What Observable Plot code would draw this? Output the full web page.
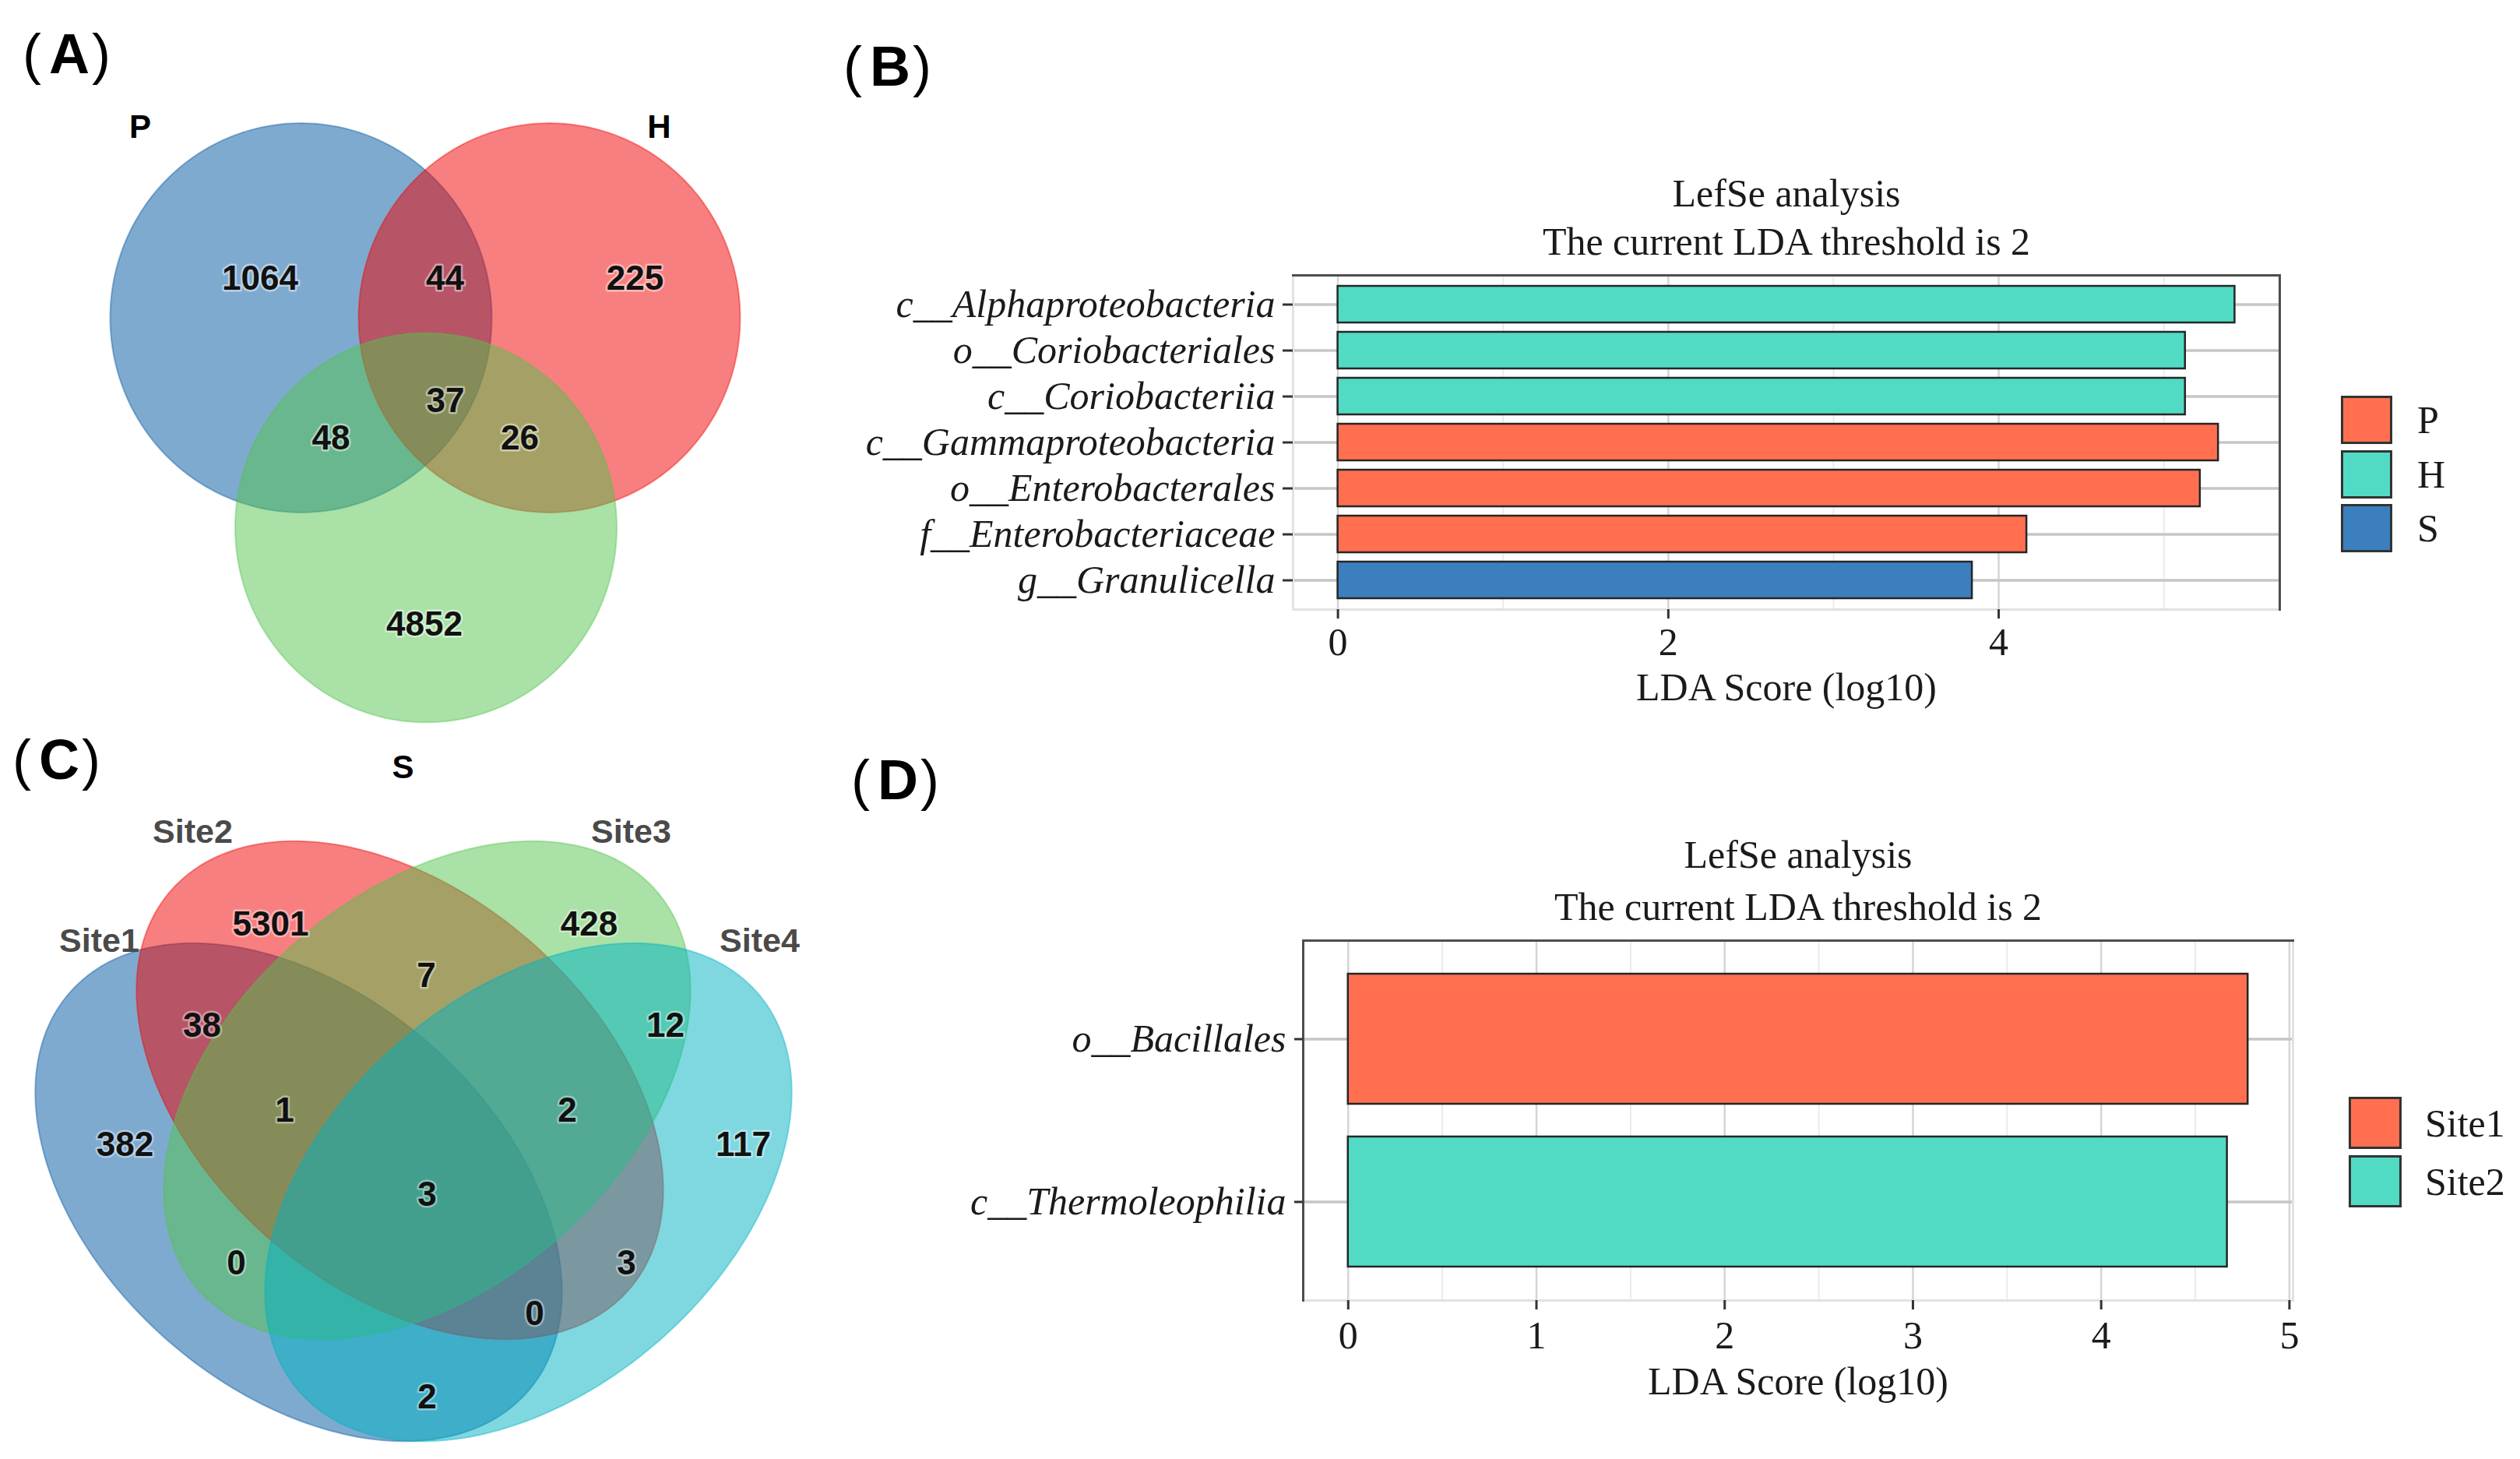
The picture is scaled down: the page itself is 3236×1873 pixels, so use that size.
<!DOCTYPE html>
<html><head><meta charset="utf-8">
<script src="https://cdn.jsdelivr.net/npm/d3@7"></script>
<script src="https://cdn.jsdelivr.net/npm/@observablehq/plot@0.6"></script>
<style>
html,body{margin:0;padding:0;background:#fff;}
#fig{position:relative;width:3236px;height:1873px;overflow:hidden;background:#fff;}
.slot{position:absolute;}
.slot svg{max-width:none !important;display:block;}
.tag{position:absolute;font-family:"Liberation Sans",Arial,sans-serif;font-size:72px;line-height:72px;color:#000;white-space:nowrap;}
.tag b{font-weight:700;margin-left:10px;margin-right:3px;}
.tag span{font-weight:400;}
.leg{position:absolute;left:0;top:0;font-family:"Liberation Serif","Times New Roman",serif;font-size:50px;color:#1a1a1a;}
.key{position:absolute;box-sizing:border-box;border:3px solid #333;}
.lab{position:absolute;line-height:1;white-space:nowrap;transform:translateY(-50%);}
[aria-label="y-axis tick label"]{font-style:italic;}
</style></head>
<body><div id="fig"></div>
<script>
// ---------------- data ----------------
// (A) Venn: P, H, S
const setsA = ["P", "H", "S"];
const regionsA = ["P", "P∩H", "H", "P∩H∩S", "P∩S", "H∩S", "S"];
const countsA = [1064, 44, 225, 37, 48, 26, 4852];

// (B) LEfSe P / H / S
const taxaB = ["c__Alphaproteobacteria", "o__Coriobacteriales", "c__Coriobacteriia",
  "c__Gammaproteobacteria", "o__Enterobacterales", "f__Enterobacteriaceae", "g__Granulicella"];
const ldaB = [5.43, 5.13, 5.13, 5.33, 5.22, 4.17, 3.84];
const classB = ["H", "H", "H", "P", "P", "P", "S"];
const groupsB = ["P", "H", "S"];
const ticksB = [0, 2, 4];
const minorB = [1, 3, 5];

// (C) Venn: Site1..Site4
const setsC = ["Site1", "Site2", "Site3", "Site4"];
const regionsC = ["Site2", "Site3", "Site2∩Site3", "Site1∩Site2", "Site3∩Site4",
  "Site1∩Site2∩Site3", "Site2∩Site3∩Site4", "Site1", "Site4", "all",
  "Site1∩Site3", "Site2∩Site4", "Site1∩Site2∩Site4", "Site1∩Site4"];
const countsC = [5301, 428, 7, 38, 12, 1, 2, 382, 117, 3, 0, 3, 0, 2];

// (D) LEfSe Site1 / Site2
const taxaD = ["o__Bacillales", "c__Thermoleophilia"];
const ldaD = [4.78, 4.67];
const classD = ["Site1", "Site2"];
const groupsD = ["Site1", "Site2"];
const ticksD = [0, 1, 2, 3, 4, 5];
const minorD = [0.5, 1.5, 2.5, 3.5, 4.5];

const titleLines = ["LefSe analysis", "The current LDA threshold is 2"];
const axisTitle = "LDA Score (log10)";

// ---------------- styling / layout ----------------
const serif = '"Liberation Serif","Times New Roman",Times,serif';
const sans = '"Liberation Sans",Arial,Helvetica,sans-serif';
const barColours = {P: "#FF6F50", H: "#52DBC4", S: "#3B7FBF", Site1: "#FF6F50", Site2: "#52DBC4"};
const vennColoursA = ["#0055A0", "#EF0000", "#53C34D"];
const vennColoursC = ["#0055A0", "#EF0000", "#53C34D", "#00B1C1"];
const vennAlpha = 0.5;

// venn geometry (layout, in panel units)
const circleLayoutA = [[0.386, 0.3995], [0.705, 0.3995], [0.5465, 0.6637]];
const radiusA = 0.245;
const setLabelPosA = [[0.1795, 0.160], [0.846, 0.160], [0.517, 0.966]];
const regionPosA = [[0.3335, 0.3505], [0.571, 0.3505], [0.815, 0.3505], [0.5715, 0.504],
  [0.4245, 0.5515], [0.667, 0.5515], [0.5445, 0.786]];

const ellipseLayoutC = [[0.383, 0.600, 41], [0.513, 0.469, 41], [0.548, 0.469, -41], [0.678, 0.600, -41]];
const axesC = [0.390, 0.254];
const setLabelPosC = [[0.127, 0.278], [0.247, 0.138], [0.810, 0.138], [0.975, 0.278]];
const regionPosC = [[0.347, 0.256], [0.756, 0.256], [0.547, 0.322], [0.259, 0.386], [0.854, 0.386],
  [0.365, 0.495], [0.728, 0.495], [0.160, 0.539], [0.954, 0.539], [0.548, 0.603],
  [0.303, 0.691], [0.804, 0.691], [0.686, 0.756], [0.548, 0.863]];

function ellipse(set, cx, cy, a, b, deg) {
  const th = deg * Math.PI / 180, n = 240, pts = [];
  for (let i = 0; i < n; ++i) {
    const t = 2 * Math.PI * i / n;
    pts.push({set,
      x: cx + a * Math.cos(t) * Math.cos(th) - b * Math.sin(t) * Math.sin(th),
      y: cy + a * Math.cos(t) * Math.sin(th) + b * Math.sin(t) * Math.cos(th)});
  }
  return pts;
}

const fig = document.getElementById("fig");
function place(node, left, top) {
  const d = document.createElement("div");
  d.className = "slot";
  d.style.left = left + "px";
  d.style.top = top + "px";
  d.appendChild(node);
  fig.appendChild(d);
}

// ---------------- (A) ----------------
{
  const shapes = setsA.map((s, i) => Plot.line(
    ellipse(s, circleLayoutA[i][0], circleLayoutA[i][1], radiusA, radiusA, 0),
    {x: "x", y: "y", curve: "linear-closed", fill: vennColoursA[i], fillOpacity: vennAlpha,
     stroke: vennColoursA[i], strokeOpacity: 0.4, strokeWidth: 2}));
  const labels = setsA.map((s, i) => ({text: s, x: setLabelPosA[i][0], y: setLabelPosA[i][1]}));
  const counts = countsA.map((c, i) => ({text: String(c), region: regionsA[i], x: regionPosA[i][0], y: regionPosA[i][1]}));
  const chart = Plot.plot({
    width: 1060, height: 1010, margin: 0,
    style: {background: "transparent", overflow: "visible"},
    x: {domain: [0, 1], range: [0, 1000], axis: null},
    y: {domain: [0, 1], range: [0, 1020], axis: null},
    marks: [
      ...shapes,
      Plot.text(labels, {x: "x", y: "y", text: "text", fontSize: 42, fontWeight: "bold", fontFamily: sans, fill: "#000"}),
      Plot.text(counts, {x: "x", y: "y", text: "text", fontSize: 44, fontWeight: "bold", fontFamily: sans,
        fill: "#111", stroke: "#fff", strokeOpacity: 0.45, strokeWidth: 5})
    ]
  });
  place(chart, 0, 0);
}

// ---------------- (C) ----------------
{
  const shapes = setsC.map((s, i) => Plot.line(
    ellipse(s, ellipseLayoutC[i][0], ellipseLayoutC[i][1], axesC[0], axesC[1], ellipseLayoutC[i][2]),
    {x: "x", y: "y", curve: "linear-closed", fill: vennColoursC[i], fillOpacity: vennAlpha,
     stroke: vennColoursC[i], strokeOpacity: 0.4, strokeWidth: 2}));
  const labels = setsC.map((s, i) => ({text: s, x: setLabelPosC[i][0], y: setLabelPosC[i][1]}));
  const counts = countsC.map((c, i) => ({text: String(c), region: regionsC[i], x: regionPosC[i][0], y: regionPosC[i][1]}));
  const chart = Plot.plot({
    width: 1060, height: 943, margin: 0,
    style: {background: "transparent", overflow: "visible"},
    x: {domain: [0, 1], range: [0, 1000], axis: null},
    y: {domain: [0, 1], range: [0, 1000], axis: null},
    marks: [
      ...shapes,
      Plot.text(labels, {x: "x", y: "y", text: "text", fontSize: 43, fontWeight: "bold", fontFamily: sans, fill: "#4a4a4a"}),
      Plot.text(counts, {x: "x", y: "y", text: "text", fontSize: 44, fontWeight: "bold", fontFamily: sans,
        fill: "#111", stroke: "#fff", strokeOpacity: 0.4, strokeWidth: 5})
    ]
  });
  place(chart, 0, 930);
}

// ---------------- LEfSe bar panels ----------------
function lefse({taxa, lda, cls, groups, ticks, minor, width, height, mt, mr, mb, ml, titleDy, darkSides, tickPad, axisDy, ytickSize, ytickPad}) {
  const rows = taxa.map((t, i) => ({taxon: t, lda: lda[i], group: cls[i]}));
  const max = d3.max(lda);
  return Plot.plot({
    width, height, marginTop: mt, marginRight: mr, marginBottom: mb, marginLeft: ml,
    style: {background: "transparent", overflow: "visible", fontFamily: serif},
    x: {domain: [-0.05 * max, 1.05 * max]},
    y: {domain: taxa, padding: 0.2},
    color: {domain: groups, range: groups.map(g => barColours[g])},
    marks: [
      Plot.gridX(minor, {stroke: "#ebebeb", strokeOpacity: 1, strokeWidth: 2}),
      Plot.gridX(ticks, {stroke: "#d5d5d5", strokeOpacity: 1, strokeWidth: 2.5}),
      Plot.gridY(taxa, {stroke: "#c6c6c6", strokeOpacity: 1, strokeWidth: 3.5}),
      Plot.frame({stroke: "#e2e2e2", strokeWidth: 3}),
      ...darkSides.map(side => Plot.frame({anchor: side, stroke: "#4d4d4d", strokeWidth: 3})),
      Plot.barX(rows, {x: "lda", y: "taxon", fill: "group", stroke: "#262626", strokeWidth: 2.5}),
      Plot.axisX(ticks, {tickSize: 12, tickPadding: tickPad, fontSize: 50, fontFamily: serif,
        tickFormat: d => String(d), stroke: "#333", strokeWidth: 3, fill: "#1a1a1a", label: null}),
      Plot.axisY(taxa, {tickSize: ytickSize, tickPadding: ytickPad, fontSize: 50, fontFamily: serif, fontStyle: "italic",
        stroke: "#333", strokeWidth: 3, fill: "#1a1a1a", label: null}),
      Plot.text([titleLines[0]], {text: d => d, frameAnchor: "top", lineAnchor: "middle", dy: titleDy[0],
        fontSize: 50, fontFamily: serif, fill: "#1a1a1a"}),
      Plot.text([titleLines[1]], {text: d => d, frameAnchor: "top", lineAnchor: "middle", dy: titleDy[1],
        fontSize: 50, fontFamily: serif, fill: "#1a1a1a"}),
      Plot.text([axisTitle], {text: d => d, frameAnchor: "bottom", lineAnchor: "middle", dy: axisDy,
        fontSize: 50, fontFamily: serif, fill: "#1a1a1a"})
    ]
  });
}

place(lefse({taxa: taxaB, lda: ldaB, cls: classB, groups: groupsB, ticks: ticksB, minor: minorB,
  width: 2156, height: 930, mt: 353, mr: 309, mb: 148, ml: 580,
  titleDy: [-105, -43], darkSides: ["top", "right"], tickPad: 11, axisDy: 100, ytickSize: 13, ytickPad: 10}), 1080, 0);

place(lefse({taxa: taxaD, lda: ldaD, cls: classD, groups: groupsD, ticks: ticksD, minor: minorD,
  width: 2156, height: 933, mt: 267, mr: 292, mb: 204, ml: 593,
  titleDy: [-110, -43], darkSides: ["top", "left"], tickPad: 14, axisDy: 104, ytickSize: 11, ytickPad: 11}), 1080, 940);

// ---------------- legends ----------------
function legend(groups, left, top, w, h, step, labLeft) {
  const box = document.createElement("div");
  box.className = "leg";
  groups.forEach((g, i) => {
    const k = document.createElement("div");
    k.className = "key";
    Object.assign(k.style, {left: left + "px", top: (top + i * step) + "px", width: w + "px", height: h + "px", background: barColours[g]});
    const l = document.createElement("div");
    l.className = "lab";
    l.textContent = g;
    Object.assign(l.style, {left: labLeft + "px", top: (top + i * step + h / 2) + "px"});
    box.appendChild(k);
    box.appendChild(l);
  });
  fig.appendChild(box);
}
legend(groupsB, 3006, 508, 66, 62, 69.5, 3104);
legend(groupsD, 3016, 1408, 68, 67, 75, 3114);

// ---------------- panel tags ----------------
[["A", 29, 33], ["B", 1083, 49], ["C", 16, 939], ["D", 1093, 965]].forEach(([t, x, y]) => {
  const d = document.createElement("div");
  d.className = "tag";
  d.style.left = x + "px";
  d.style.top = y + "px";
  d.innerHTML = "<span>(</span><b>" + t + "</b><span>)</span>";
  fig.appendChild(d);
});
</script>
</body></html>
